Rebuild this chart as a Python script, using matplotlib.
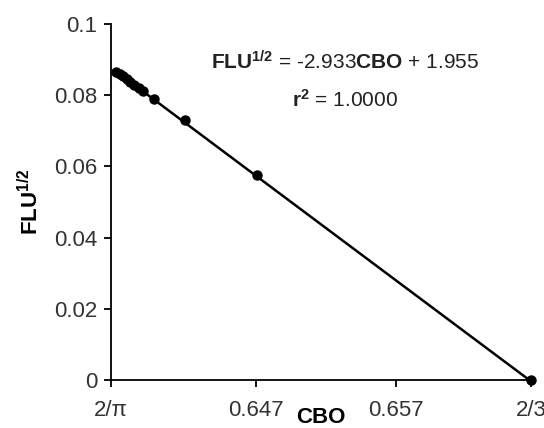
import numpy as np
import matplotlib
matplotlib.use("Agg")
import matplotlib.pyplot as plt

plt.rcParams['font.family'] = ['Liberation Sans', 'DejaVu Sans']
plt.rcParams['mathtext.fontset'] = 'custom'
plt.rcParams['mathtext.rm'] = 'Liberation Sans'
plt.rcParams['mathtext.bf'] = 'Liberation Sans:bold'

# data
cbo = [0.6370, 0.63725, 0.6375, 0.63775, 0.6380, 0.6383, 0.6386, 0.6389,
       0.6397, 0.6419, 0.6471, 2 / 3]
flu_sqrt = [0.0866, 0.0860, 0.0853, 0.0845, 0.0838, 0.0829, 0.0820, 0.0812,
            0.0790, 0.0729, 0.0575, 0.0]

slope, intercept = -2.933, 1.955

x_ticks = [2 / np.pi, 0.647, 0.657, 2 / 3]
x_tick_labels = ['2/\u03c0', '0.647', '0.657', '2/3']
y_ticks = [0, 0.02, 0.04, 0.06, 0.08, 0.1]
y_tick_labels = ['0', '0.02', '0.04', '0.06', '0.08', '0.1']

fig = plt.figure(figsize=(5.44, 4.28), dpi=100)
ax = fig.add_axes([0.204, 0.112, 0.772, 0.832])

xs = np.array([cbo[0], cbo[-1]])
ax.plot(xs, slope * xs + intercept, color='black', lw=1.8, clip_on=False)
ax.plot(cbo, flu_sqrt, 'o', color='black', ms=6.5, clip_on=False)

ax.set_xlim(2 / np.pi, 2 / 3)
ax.set_ylim(0, 0.1)
ax.set_xticks(x_ticks)
ax.set_xticklabels(x_tick_labels)
ax.set_yticks(y_ticks)
ax.set_yticklabels(y_tick_labels)

for side in ['top', 'right']:
    ax.spines[side].set_visible(False)
for side in ['left', 'bottom']:
    ax.spines[side].set_linewidth(1.3)
ax.tick_params(direction='out', length=5, width=1.3, labelsize=16,
               labelcolor='#333333')
ax.tick_params(axis='y', pad=5)
ax.tick_params(axis='x', pad=9)

ax.set_ylabel(r'$\mathbf{FLU^{1/2}}$', fontsize=16, labelpad=8)
ax.set_xlabel('CBO', fontsize=16, fontweight='bold', labelpad=-10)

ax.text(0.557, 0.893,
        r'$\mathbf{FLU^{1/2}}$ = -2.933$\mathbf{CBO}$ + 1.955',
        transform=ax.transAxes, ha='center', va='center', fontsize=15,
        color='#222222')
ax.text(0.557, 0.787, r'$\mathbf{r^{2}}$ = 1.0000',
        transform=ax.transAxes, ha='center', va='center', fontsize=15,
        color='#222222')

fig.savefig('out.png', dpi=100)
